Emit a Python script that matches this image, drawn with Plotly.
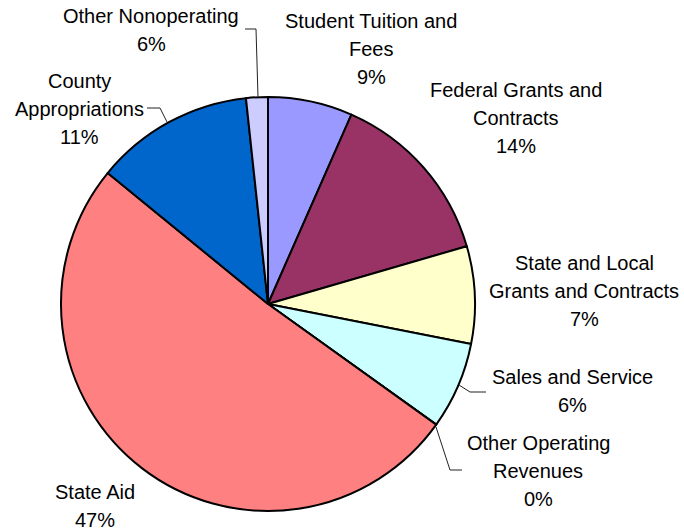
import plotly.graph_objects as go

W, H = 684, 531

# ---- data ----
categories = [
    "Student Tuition and Fees",
    "Federal Grants and Contracts",
    "State and Local Grants and Contracts",
    "Sales and Service",
    "Other Operating Revenues",
    "State Aid",
    "County Appropriations",
    "Other Nonoperating",
]
# slice sizes (percent of circle)
values = [6.6, 13.9, 7.6, 6.8, 0.0, 51.0, 12.4, 1.7]
# percentage labels as printed in the chart
pct_labels = ["9%", "14%", "7%", "6%", "0%", "47%", "11%", "6%"]
# how each category name wraps in the labels
label_lines = [
    ["Student Tuition and", "Fees"],
    ["Federal Grants and", "Contracts"],
    ["State and Local", "Grants and Contracts"],
    ["Sales and Service"],
    ["Other Operating", "Revenues"],
    ["State Aid"],
    ["County", "Appropriations"],
    ["Other Nonoperating"],
]
colors = ["#9999FF", "#993366", "#FFFFCC", "#CCFFFF",
          "#660066", "#FF8080", "#0066CC", "#CCCCFF"]

# ---- layout helpers (pixel positions) ----
cx, cy, r = 268, 304, 207
label_anchor = [  # center x, first-line center y
    (371, 21), (516, 90), (584, 263), (572, 377),
    (538, 443), (95, 492), (79, 81), (151, 16),
]
line_gap = 28
leaders = [
    [(245, 29), (256, 29), (258, 97)],
    [(147, 108), (160, 108), (167, 122)],
    [(459, 385), (470, 392), (486, 392)],
    [(436, 427), (450, 470), (462, 470)],
]

def px(x):
    return x / W

def py(y):
    return 1 - y / H

fig = go.Figure(go.Pie(
    labels=categories,
    values=values,
    sort=False,
    direction="clockwise",
    rotation=0,
    marker=dict(colors=colors, line=dict(color="black", width=2)),
    textinfo="none",
    hoverinfo="label+percent",
    showlegend=False,
    domain=dict(x=[px(cx - r), px(cx + r)], y=[py(cy + r), py(cy - r)]),
))

annotations = []
for lines, pct, (ax, ay) in zip(label_lines, pct_labels, label_anchor):
    for i, t in enumerate(lines + [pct]):
        annotations.append(dict(
            x=px(ax), y=py(ay + i * line_gap), xref="paper", yref="paper",
            text=t, showarrow=False, xanchor="center", yanchor="middle",
            font=dict(family="Liberation Sans, Arial, sans-serif", size=20, color="black"),
        ))

shapes = []
for pts in leaders:
    path = "M " + " L ".join(f"{px(x)},{py(y)}" for x, y in pts)
    shapes.append(dict(type="path", xref="paper", yref="paper", path=path,
                       line=dict(color="#222222", width=1)))

fig.update_layout(
    width=W, height=H,
    margin=dict(l=0, r=0, t=0, b=0),
    paper_bgcolor="white", plot_bgcolor="white",
    annotations=annotations, shapes=shapes,
)

fig.write_html("out.html")
